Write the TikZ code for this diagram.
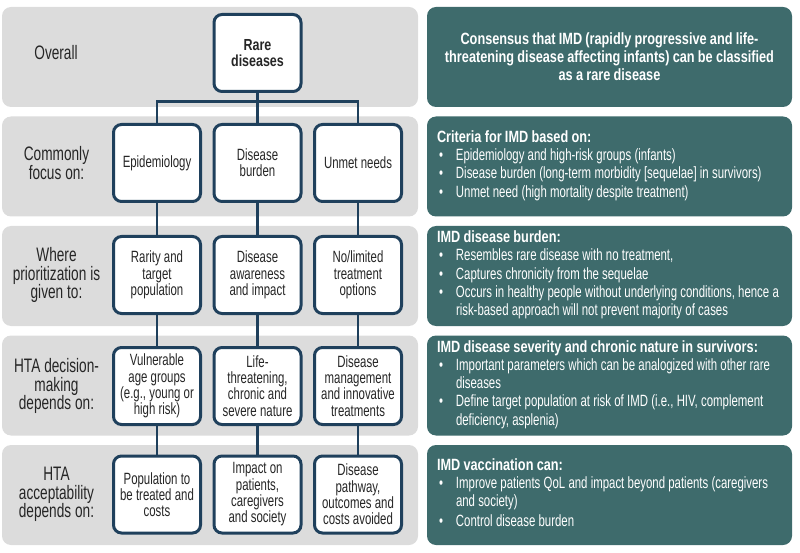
\documentclass[tikz,border=0pt]{standalone}
\usepackage{fontspec}
\setmainfont{Liberation Sans}[UprightFeatures={FakeStretch=0.7}, BoldFeatures={FakeStretch=0.78}]
\usetikzlibrary{positioning}
\definecolor{panelgray}{HTML}{DCDCDC}
\definecolor{panelteal}{HTML}{3E6B6C}
\definecolor{boxline}{HTML}{1F405C}
\definecolor{inktext}{HTML}{262626}
\newcommand{\pnt}[1]{\par\noindent\makebox[19pt][l]{\hspace{2pt}\textbullet}%
    \parbox[t]{326pt}{\raggedright\spaceskip=0.2em\relax\baselineskip=18.3pt #1\strut}}
\newcommand{\hdr}[1]{\noindent\textbf{#1}}

\begin{document}
\hyphenpenalty=10000
\exhyphenpenalty=10000
\begin{tikzpicture}[
    x=1pt, y=-1pt,
    node distance=100.5pt,
    execute at begin node={\spaceskip=0.2em\relax},
    graypanel/.style={fill=panelgray, rounded corners=9pt, minimum width=416pt, minimum height=100pt, inner sep=0pt},
    tealpanel/.style={fill=panelteal, rounded corners=9pt, minimum width=365pt, minimum height=100pt, inner xsep=10pt, inner ysep=0pt, text width=345pt, text=white, font=\fontsize{16.3}{18.3}\selectfont, align=left},
    box/.style={draw=boxline, line width=3pt, fill=white, rounded corners=8pt, minimum width=87pt, minimum height=77pt, inner sep=2pt, align=center, text=inktext, font=\fontsize{16.3}{16.3}\selectfont},
    rowlabel/.style={align=center, text=inktext, font=\fontsize{19.5}{18.8}\selectfont},
    link/.style={draw=boxline, line width=2.7pt}
]
\useasboundingbox (0,0) rectangle (800,553);

% Panels
\foreach \y [count=\i] in {57,166.5,276,385.5,495}
    \node[graypanel] (band\i) at (210,\y) {};

\node[tealpanel, align=center, font=\bfseries\fontsize{16.3}{18}\selectfont] (consensus) at (609.5,57)
    {Consensus that IMD (rapidly progressive and life-\\threatening disease affecting infants) can be classified\\as a rare disease};
\node[tealpanel] (criteria) at (609.5,166.5) {\hdr{Criteria for IMD based on:}
    \pnt{Epidemiology and high-risk groups (infants)}
    \pnt{Disease burden (long-term morbidity [sequelae] in survivors)}
    \pnt{Unmet need (high mortality despite treatment)}};
\node[tealpanel] (burdenimd) at (609.5,276) {\hdr{IMD disease burden:}
    \pnt{Resembles rare disease with no treatment,}
    \pnt{Captures chronicity from the sequelae}
    \pnt{Occurs in healthy people without underlying conditions, hence a risk-based approach will not prevent majority of cases}};
\node[tealpanel] (severity) at (609.5,385.5) {\hdr{IMD disease severity and chronic nature in survivors:}
    \pnt{Important parameters which can be analogized with other rare diseases}
    \pnt{Define target population at risk of IMD (i.e., HIV, complement deficiency, asplenia)}};
\node[tealpanel] (vaccination) at (609.5,495) {\hdr{IMD vaccination can:}
    \pnt{Improve patients QoL and impact beyond patients (caregivers and society)}
    \pnt{Control disease burden}};

% Blocks
\node[box, font=\bfseries\fontsize{16}{16}\selectfont] (rare) at (257.5,53) {Rare\\diseases};
\node[rowlabel] (overall) at (56,53) {Overall};

\node[box] (epi) at (157,163) {Epidemiology};
\node[box, right of=epi] (burden) {Disease\\burden};
\node[box, right of=burden] (unmet) {Unmet needs};
\node[rowlabel, left of=epi] (focus) {Commonly\\focus on:};

\node[box] (rarity) at (157,275) {Rarity and\\target\\population};
\node[box, right of=rarity] (aware) {Disease\\awareness\\and impact};
\node[box, right of=aware] (options) {No/limited\\treatment\\options};
\node[rowlabel, left of=rarity] (prio) {Where\\prioritization is\\given to:};

\node[box] (vulner) at (157,386) {Vulnerable\\age groups\\(e.g., young or\\high risk)};
\node[box, right of=vulner] (life) {Life-\\threatening,\\chronic and\\severe nature};
\node[box, right of=life] (manage) {Disease\\management\\and innovative\\treatments};
\node[rowlabel, left of=vulner] (decision) {HTA decision-\\making\\depends on:};

\node[box] (popul) at (157,494.5) {Population to\\be treated and\\costs};
\node[box, right of=popul] (impact) {Impact on\\patients,\\caregivers\\and society};
\node[box, right of=impact] (pathway) {Disease\\pathway,\\outcomes and\\costs avoided};
\node[rowlabel, left of=popul] (accept) {HTA\\acceptability\\depends on:};

% Connections
\coordinate (bus) at (257.5,101.7);
\draw[link] (rare) -- (bus);
\draw[link] (epi) |- (bus) -| (unmet);
\draw[link] (bus) -- (burden);
\foreach \a/\b in {epi/rarity, burden/aware, unmet/options,
                   rarity/vulner, aware/life, options/manage,
                   vulner/popul, life/impact, manage/pathway}
    \draw[link] (\a) -- (\b);
\end{tikzpicture}
\end{document}
